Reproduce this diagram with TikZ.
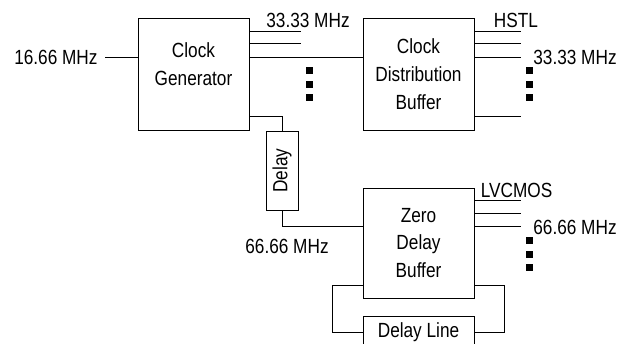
\documentclass[tikz,border=0pt]{standalone}
\usepackage{fontspec}
\setmainfont{Liberation Sans}[FakeStretch=0.84]
\usetikzlibrary{positioning}

\begin{document}
\begin{tikzpicture}[x=0.03cm,y=-0.03cm,line width=0.8pt,font=\fontsize{17.5}{23.8}\selectfont]
  \tikzstyle{box}=[draw,minimum width=3.33cm,minimum height=3.36cm,align=center,inner sep=0pt]
  \tikzstyle{lbl}=[inner sep=0pt]
  \useasboundingbox (0,0) rectangle (627,344);
  \node[box] (cg) at (193.5,74) {};
  \node[lbl,align=center] (cgtext) at (193.5,64) {Clock\\Generator};
  \node[box] (cdb) at (418.5,74) {Clock\\Distribution\\Buffer};
  \node[box,minimum height=3.3cm] (zdb) at (418.5,243) {Zero\\Delay\\Buffer};
  \node[box,minimum width=2.37cm,minimum height=0.96cm,rotate=90] (dly) at (282,170.5) {Delay};
  \node[box,minimum height=0.96cm] (dl) at (418.5,332) {Delay Line};
  % frequencies and levels
  \node[anchor=east,inner xsep=0.21cm,inner ysep=0pt] (fin) at (105,57) {16.66 MHz};
  \node[lbl] (f1) at (308,20) {33.33 MHz};
  \node[lbl] (hstl) at (516,20) {HSTL};
  \node[lbl] (f2) at (575,57) {33.33 MHz};
  \node[lbl] (lvc) at (516.5,190) {LVCMOS};
  \node[lbl] (f3) at (575,227) {66.66 MHz};
  \node[lbl] (f4) at (287,246) {66.66 MHz};
  % wiring
  \draw (fin.east) -- (cg.west |- fin.east);
  \foreach \y in {31,43} \draw (cg.east |- 0,\y) -- (301,\y);
  \draw (cg.east |- 0,57) -- (cdb.west |- 0,57);
  \foreach \y in {31,43,57,116} \draw (cdb.east |- 0,\y) -- (521,\y);
  \foreach \y in {200,213,226} \draw (zdb.east |- 0,\y) -- (521,\y);
  \draw (cg.east |- 0,116) -| (dly.east);
  \draw (dly.west) |- (zdb.west |- 0,226);
  \draw (zdb.west |- 0,285) -- (332,285) |- (dl.west);
  \draw (zdb.east |- 0,285) -- (504,285) |- (dl.east);
  % more outputs
  \foreach \x/\y in {309.5/71,309.5/85,309.5/98,529/71,529/85,529/98,529/240,529/254,529/267}
    \fill (\x-3.5,\y-3.5) rectangle ++(7,7);
\end{tikzpicture}
\end{document}
